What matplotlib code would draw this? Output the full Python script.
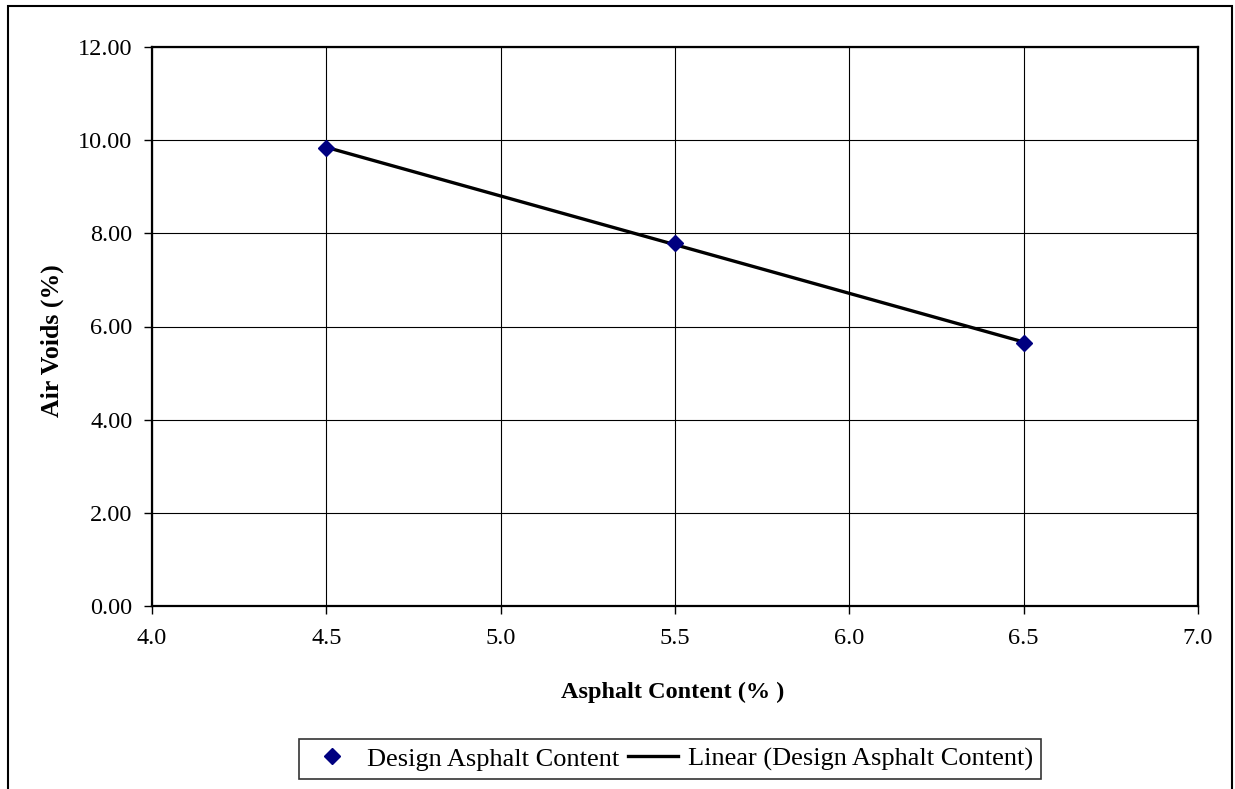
import numpy as np
import matplotlib
matplotlib.use("Agg")
import matplotlib.pyplot as plt
from matplotlib.patches import Rectangle

plt.rcParams["font.family"] = ["Liberation Serif", "DejaVu Serif"]

asphalt_content = [4.5, 5.5, 6.5]
air_voids = [9.83, 7.79, 5.65]
x_ticks = [4.0, 4.5, 5.0, 5.5, 6.0, 6.5, 7.0]
y_ticks = [0, 2, 4, 6, 8, 10, 12]

fig = plt.figure(figsize=(12.35, 7.89), dpi=100)
ax = fig.add_axes([152 / 1235, 1 - 606 / 789, (1198 - 152) / 1235, (606 - 47) / 789])

# linear trendline like excel
slope, intercept = np.polyfit(asphalt_content, air_voids, 1)
xs = np.array([asphalt_content[0], asphalt_content[-1]])

ax.plot(asphalt_content, air_voids, linestyle="none", marker="D", markersize=8.5,
        color="#000080", label="Design Asphalt Content", zorder=3)
ax.plot(xs, slope * xs + intercept, color="black", linewidth=2.4,
        label="Linear (Design Asphalt Content)", zorder=2)

ax.set_xlim(4.0, 7.0)
ax.set_ylim(0, 12)
ax.set_xticks(x_ticks)
ax.set_yticks(y_ticks)
ax.set_xticklabels([f"{v:.1f}" for v in x_ticks])
ax.set_yticklabels([f"{v:.2f}" for v in y_ticks])
ax.tick_params(axis="both", direction="out", length=6, width=1, labelsize=17.5)
ax.tick_params(axis="x", pad=10)
ax.tick_params(axis="y", pad=8)
ax.grid(True, color="black", linewidth=0.8)
ax.set_axisbelow(True)
for s in ax.spines.values():
    s.set_linewidth(1.6)
    s.set_color("black")

ax.set_xlabel("Asphalt Content (% )", fontsize=17.5, fontweight="bold")
ax.set_ylabel("Air Voids (%)", fontsize=18.5, fontweight="bold")
ax.xaxis.set_label_coords((673 - 152) / 1046, -(682 - 606) / 559)
ax.yaxis.set_label_coords(-(152 - 64) / 1046, (606 - 341) / 559)

leg = fig.legend(loc="center", bbox_to_anchor=(670 / 1235, 1 - 759 / 789), ncol=2,
                 fontsize=19, frameon=True, fancybox=False, handlelength=1.9,
                 columnspacing=0.35, handletextpad=0.35, borderpad=0.3, borderaxespad=0)
leg.get_frame().set_edgecolor("black")
leg.get_frame().set_linewidth(1.2)

# outer chart border
fig.patches.append(Rectangle((8 / 1235, -0.02), (1232 - 8) / 1235, 1.02 - 6 / 789,
                             transform=fig.transFigure, fill=False,
                             edgecolor="black", linewidth=1.5))

fig.savefig("out.png", dpi=100)
